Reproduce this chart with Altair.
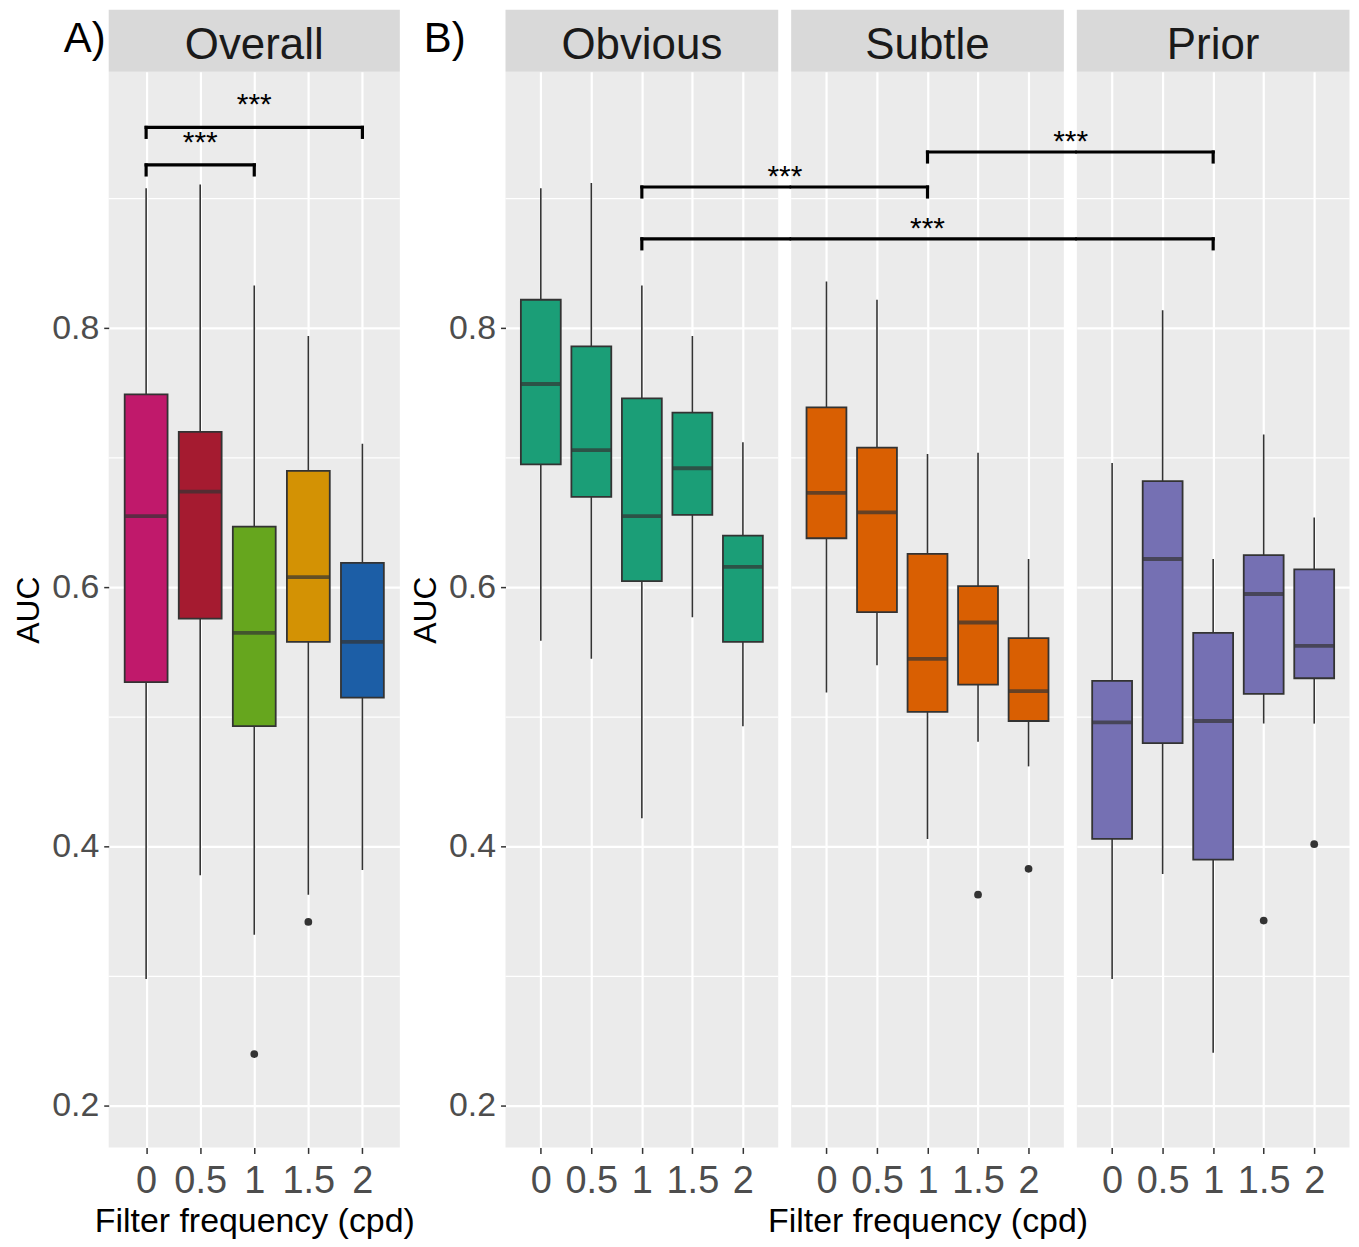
import altair as alt
import pandas as pd

# ---------------- data ----------------
freqs = [0, 0.5, 1, 1.5, 2]
y_ticks = [0.2, 0.4, 0.6, 0.8]
y_minor = [0.3, 0.5, 0.7, 0.9]

overall_colors = ["#C0196B", "#A51B30", "#66A61E", "#D39204", "#1C5EA6"]
overall_low = [0.298, 0.378, 0.332, 0.363, 0.382]
overall_q1 = [0.527, 0.576, 0.493, 0.558, 0.515]
overall_med = [0.655, 0.674, 0.565, 0.608, 0.558]
overall_q3 = [0.749, 0.720, 0.647, 0.690, 0.619]
overall_high = [0.908, 0.911, 0.833, 0.794, 0.711]
overall_out_x = [1, 1.5]
overall_out_y = [0.240, 0.342]

obvious_color = "#1B9E77"
obvious_low = [0.559, 0.545, 0.422, 0.577, 0.493]
obvious_q1 = [0.695, 0.670, 0.605, 0.656, 0.558]
obvious_med = [0.757, 0.706, 0.655, 0.692, 0.616]
obvious_q3 = [0.822, 0.786, 0.746, 0.735, 0.640]
obvious_high = [0.908, 0.912, 0.833, 0.794, 0.712]
obvious_out_x = []
obvious_out_y = []

subtle_color = "#D95F02"
subtle_low = [0.519, 0.540, 0.406, 0.481, 0.462]
subtle_q1 = [0.638, 0.581, 0.504, 0.525, 0.497]
subtle_med = [0.673, 0.658, 0.545, 0.573, 0.520]
subtle_q3 = [0.739, 0.708, 0.626, 0.601, 0.561]
subtle_high = [0.836, 0.822, 0.703, 0.704, 0.622]
subtle_out_x = [1.5, 2]
subtle_out_y = [0.363, 0.383]

prior_color = "#7570B3"
prior_low = [0.298, 0.379, 0.241, 0.495, 0.495]
prior_q1 = [0.406, 0.480, 0.390, 0.518, 0.530]
prior_med = [0.496, 0.622, 0.497, 0.595, 0.555]
prior_q3 = [0.528, 0.682, 0.565, 0.625, 0.614]
prior_high = [0.696, 0.814, 0.622, 0.718, 0.654]
prior_out_x = [1.5, 2]
prior_out_y = [0.343, 0.402]

sig_label = "***"
overall_sig_from = [0, 0]
overall_sig_to = [1, 2]
overall_sig_y = [0.926, 0.955]

b_panels = ["Obvious", "Subtle", "Prior"]
b_sig_pairs = [("Obvious", "Subtle"), ("Obvious", "Prior"), ("Subtle", "Prior")]
b_sig_y = [0.909, 0.869, 0.936]
b_sig_freq = 1

# ---------------- layout / style ----------------
H = 1079
WA = 292
WB = 273.5
GAP = 12.5
STRIP = 62
TIP = 0.0077
DARK = "#333333"
FONT = "Liberation Sans"

yscale = alt.Scale(domain=[0.168, 0.998], nice=False, zero=False)
xscale = alt.Scale(domain=[-0.3, 2.3], nice=False, zero=False)


def xaxis(title):
    kw = dict(values=freqs, format="~g", labelAngle=0, labelFontSize=38,
              labelColor="#4D4D4D", tickColor=DARK, tickSize=6, tickWidth=1.5,
              labelPadding=9, domain=False, grid=True, gridColor="white",
              gridWidth=2.2, labelOverlap=False, labelFlush=False,
              titleFontSize=34, titleFontWeight="normal", titleColor="#000000",
              titlePadding=4)
    return alt.Axis(title=title, **kw)


def yaxis(show):
    if show:
        return alt.Axis(values=y_ticks, format=".1f", labelFontSize=34,
                        labelColor="#4D4D4D", tickColor=DARK, tickSize=5,
                        tickWidth=1.5, labelPadding=5, domain=False, grid=True,
                        gridColor="white", gridWidth=2.2, title="AUC",
                        titleFontSize=32, titleFontWeight="normal",
                        titleColor="#000000", titlePadding=6)
    return alt.Axis(values=y_ticks, labels=False, ticks=False, domain=False,
                    grid=True, gridColor="white", gridWidth=2.2, title=None)


def panel(name, tag, tag_x, width, box_w, colors, low, q1, med, q3, high,
          out_x, out_y, show_y, xtitle, extra):
    X = lambda f: alt.X(f"{f}:Q", scale=xscale, axis=xaxis(xtitle))
    Y = lambda f: alt.Y(f"{f}:Q", scale=yscale, axis=yaxis(show_y))

    df = pd.DataFrame({"freq": freqs, "low": low, "q1": q1, "med": med,
                       "q3": q3, "high": high})
    layers = []
    sdf = pd.DataFrame({"name": [name]})
    layers.append(alt.Chart(sdf).mark_rect(color="#D9D9D9").encode(
        x=alt.value(0), x2=alt.value(width), y=alt.value(-STRIP), y2=alt.value(0)))
    layers.append(alt.Chart(sdf).mark_text(fontSize=44, color="#1A1A1A",
                                           baseline="alphabetic").encode(
        x=alt.value(width / 2), y=alt.value(-13), text="name:N"))
    if tag:
        tdf = pd.DataFrame({"tag": [tag]})
        layers.append(alt.Chart(tdf).mark_text(fontSize=42, color="#000000",
                                               align="right",
                                               baseline="alphabetic").encode(
            x=alt.value(tag_x), y=alt.value(-20), text="tag:N"))
    layers.append(alt.Chart(pd.DataFrame({"v": y_minor})).mark_rule(
        color="white", strokeWidth=1.2).encode(y=Y("v")))
    layers.append(alt.Chart(df).mark_rule(color=DARK, strokeWidth=1.6).encode(
        x=X("freq"), y=Y("low"), y2="high"))
    if isinstance(colors, list):
        bars = alt.Chart(df).mark_bar(size=box_w, stroke=DARK, strokeWidth=1.8).encode(
            x=X("freq"), y=Y("q1"), y2="q3",
            color=alt.Color("freq:N", scale=alt.Scale(domain=freqs, range=colors),
                            legend=None))
    else:
        bars = alt.Chart(df).mark_bar(size=box_w, fill=colors, stroke=DARK,
                                      strokeWidth=1.8).encode(
            x=X("freq"), y=Y("q1"), y2="q3")
    layers.append(bars)
    layers.append(alt.Chart(df).mark_tick(orient="horizontal", size=box_w,
                                          thickness=3.8, color=DARK).encode(
        x=X("freq"), y=Y("med")))
    if out_x:
        odf = pd.DataFrame({"freq": out_x, "out": out_y})
        layers.append(alt.Chart(odf).mark_circle(size=60, color=DARK, opacity=1).encode(
            x=X("freq"), y=Y("out")))
    layers.extend(extra(X, Y))
    return alt.layer(*layers).properties(width=width, height=H)


BR = dict(color="#000000", strokeWidth=3.2, strokeCap="square")


def overall_brackets(X, Y):
    bdf = pd.DataFrame({"x1": overall_sig_from, "x2": overall_sig_to,
                        "y": overall_sig_y, "lab": [sig_label] * len(overall_sig_y)})
    bdf["xm"] = (bdf["x1"] + bdf["x2"]) / 2
    tips = pd.DataFrame({"x": list(bdf["x1"]) + list(bdf["x2"]),
                         "y": list(bdf["y"]) * 2})
    tips["ybot"] = tips["y"] - TIP
    return [
        alt.Chart(bdf).mark_rule(**BR).encode(x=X("x1"), x2="x2", y=Y("y")),
        alt.Chart(tips).mark_rule(**BR).encode(x=X("x"), y=Y("y"), y2="ybot"),
        alt.Chart(bdf).mark_text(fontSize=30, color="#000000", baseline="alphabetic",
                                 dy=-13).encode(x=X("xm"), y=Y("y"), text="lab:N"),
    ]


def b_brackets(pname):
    idx = b_panels.index(pname)

    def build(X, Y):
        out = []
        for (p1, p2), yv in zip(b_sig_pairs, b_sig_y):
            i1, i2 = b_panels.index(p1), b_panels.index(p2)
            row = pd.DataFrame({"x": [b_sig_freq], "y": [yv], "ybot": [yv - TIP],
                                "lab": [sig_label]})
            if idx == i1:
                out.append(alt.Chart(row).mark_rule(**BR).encode(
                    x=X("x"), x2=alt.value(WB + GAP + 1), y=Y("y")))
                out.append(alt.Chart(row).mark_rule(**BR).encode(
                    x=X("x"), y=Y("y"), y2="ybot"))
            elif i1 < idx < i2:
                out.append(alt.Chart(row).mark_rule(**BR).encode(
                    x=alt.value(0), x2=alt.value(WB + GAP + 1), y=Y("y")))
            elif idx == i2:
                out.append(alt.Chart(row).mark_rule(**BR).encode(
                    x=X("x"), x2=alt.value(0), y=Y("y")))
                out.append(alt.Chart(row).mark_rule(**BR).encode(
                    x=X("x"), y=Y("y"), y2="ybot"))
            # label
            txt = alt.Chart(row).mark_text(fontSize=30, color="#000000",
                                           baseline="alphabetic", dy=-1)
            if i2 - i1 == 1 and idx == i2:
                out.append(txt.encode(x=alt.value(-GAP / 2), y=Y("y"), text="lab:N"))
            elif i2 - i1 == 2 and idx == i1 + 1:
                out.append(txt.encode(x=X("x"), y=Y("y"), text="lab:N"))
        return out
    return build


panel_a = panel("Overall", "A)", -3, WA, 43, overall_colors, overall_low, overall_q1,
                overall_med, overall_q3, overall_high, overall_out_x, overall_out_y,
                True, "Filter frequency (cpd)", overall_brackets)

panel_o = panel("Obvious", "B)", -40, WB, 40, obvious_color, obvious_low, obvious_q1,
                obvious_med, obvious_q3, obvious_high, obvious_out_x, obvious_out_y,
                True, None, b_brackets("Obvious"))
panel_s = panel("Subtle", None, 0, WB, 40, subtle_color, subtle_low, subtle_q1,
                subtle_med, subtle_q3, subtle_high, subtle_out_x, subtle_out_y,
                False, "Filter frequency (cpd)", b_brackets("Subtle"))
panel_p = panel("Prior", None, 0, WB, 40, prior_color, prior_low, prior_q1,
                prior_med, prior_q3, prior_high, prior_out_x, prior_out_y,
                False, None, b_brackets("Prior"))

panel_b = alt.hconcat(panel_o, panel_s, panel_p, spacing=GAP, bounds="flush")

chart = alt.hconcat(panel_a, panel_b, spacing=106, bounds="flush").properties(
    padding={"left": 4, "top": 0, "right": 0, "bottom": 0},
    background="white",
).configure(font=FONT).configure_view(fill="#EBEBEB", strokeWidth=0)

chart.save("out.html", embed_options={"renderer": "svg", "actions": False})
